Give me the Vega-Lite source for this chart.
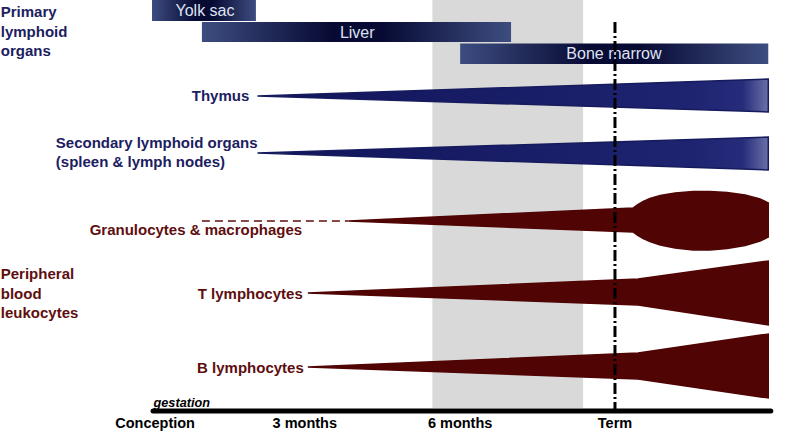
{
  "$schema": "https://vega.github.io/schema/vega-lite/v6.json",
  "width": 789,
  "height": 432,
  "padding": 0,
  "autosize": {"type": "fit", "contains": "padding"},
  "background": "white",
  "config": {"view": {"stroke": null}, "font": "Liberation Sans"},
  "datasets": {
    "bars": [
      {"organ": "Yolk sac", "start": 0, "end": 2.02, "top": 0, "bottom": 21, "mid": 1.03, "ymid": 11},
      {"organ": "Liver", "start": 0.97, "end": 6.98, "top": 22, "bottom": 42, "mid": 3.99, "ymid": 32.5},
      {"organ": "Bone marrow", "start": 5.99, "end": 11.98, "top": 43.5, "bottom": 64, "mid": 8.98, "ymid": 54}
    ],
    "navy": [
      {"shape": "Thymus", "month": 2.05, "top": 96, "bottom": 96},
      {"shape": "Thymus", "month": 11.98, "top": 79, "bottom": 112},
      {"shape": "Secondary", "month": 2.05, "top": 153, "bottom": 153},
      {"shape": "Secondary", "month": 11.98, "top": 137, "bottom": 170}
    ],
    "red": [
      {"shape": "Granulocytes", "month": 3.82, "top": 221, "bottom": 221},
      {"shape": "Granulocytes", "month": 9.35, "top": 208, "bottom": 232},
      {"shape": "Granulocytes", "month": 9.45, "top": 204.5, "bottom": 235.5},
      {"shape": "Granulocytes", "month": 9.55, "top": 201.5, "bottom": 238.5},
      {"shape": "Granulocytes", "month": 9.68, "top": 198.5, "bottom": 241.5},
      {"shape": "Granulocytes", "month": 9.88, "top": 195.5, "bottom": 245},
      {"shape": "Granulocytes", "month": 10.17, "top": 193, "bottom": 248},
      {"shape": "Granulocytes", "month": 10.52, "top": 191.5, "bottom": 250},
      {"shape": "Granulocytes", "month": 10.85, "top": 191.5, "bottom": 250},
      {"shape": "Granulocytes", "month": 11.18, "top": 192.5, "bottom": 248.5},
      {"shape": "Granulocytes", "month": 11.53, "top": 195, "bottom": 245.5},
      {"shape": "Granulocytes", "month": 11.82, "top": 199, "bottom": 241},
      {"shape": "Granulocytes", "month": 11.98, "top": 203, "bottom": 237},
      {"shape": "T lymphocytes", "month": 3.03, "top": 293, "bottom": 293},
      {"shape": "T lymphocytes", "month": 9.45, "top": 279, "bottom": 305},
      {"shape": "T lymphocytes", "month": 11.98, "top": 261, "bottom": 325},
      {"shape": "B lymphocytes", "month": 3.03, "top": 367, "bottom": 367},
      {"shape": "B lymphocytes", "month": 9.45, "top": 353, "bottom": 379},
      {"shape": "B lymphocytes", "month": 11.98, "top": 334, "bottom": 398}
    ],
    "leftText": [
      {"label": "Primary", "month": -2.94, "pos": 12, "color": "#1b2060"},
      {"label": "lymphoid", "month": -2.94, "pos": 31.5, "color": "#1b2060"},
      {"label": "organs", "month": -2.94, "pos": 51, "color": "#1b2060"},
      {"label": "Secondary lymphoid organs", "month": -1.87, "pos": 143, "color": "#1b2060"},
      {"label": "(spleen & lymph nodes)", "month": -1.87, "pos": 162, "color": "#1b2060"},
      {"label": "Peripheral", "month": -2.94, "pos": 274, "color": "#5e0e0e"},
      {"label": "blood", "month": -2.94, "pos": 293.5, "color": "#5e0e0e"},
      {"label": "leukocytes", "month": -2.94, "pos": 313, "color": "#5e0e0e"}
    ],
    "rightText": [
      {"label": "Thymus", "month": 1.89, "pos": 96, "color": "#1b2060"},
      {"label": "Granulocytes & macrophages", "month": 2.92, "pos": 230, "color": "#5e0e0e"},
      {"label": "T lymphocytes", "month": 2.93, "pos": 293.5, "color": "#5e0e0e"},
      {"label": "B lymphocytes", "month": 2.95, "pos": 367.5, "color": "#5e0e0e"}
    ],
    "ticks": [
      {"label": "Conception", "month": 0.06},
      {"label": "3 months", "month": 2.97},
      {"label": "6 months", "month": 5.99},
      {"label": "Term", "month": 9.0}
    ]
  },
  "encoding": {
    "x": {"type": "quantitative", "scale": {"domain": [-2.955, 12.383], "nice": false, "zero": false}, "axis": null},
    "y": {"type": "quantitative", "scale": {"domain": [0, 432], "reverse": true, "nice": false, "zero": false}, "axis": null}
  },
  "layer": [
    {
      "data": {"values": [{"from": 5.45, "to": 8.38, "top": 0, "bottom": 408}]},
      "mark": {"type": "rect", "color": "#d9d9d9"},
      "encoding": {"x": {"field": "from"}, "x2": {"field": "to"}, "y": {"field": "top"}, "y2": {"field": "bottom"}}
    },
    {
      "data": {"name": "bars"},
      "mark": {
        "type": "rect",
        "fill": {"gradient": "linear", "x1": 0, "x2": 1, "y1": 0, "y2": 0, "stops": [
          {"offset": 0, "color": "#3d4d80"},
          {"offset": 0.42, "color": "#070a33"},
          {"offset": 0.58, "color": "#070a33"},
          {"offset": 1, "color": "#3d4d80"}
        ]}
      },
      "encoding": {"x": {"field": "start"}, "x2": {"field": "end"}, "y": {"field": "top"}, "y2": {"field": "bottom"}}
    },
    {
      "data": {"name": "bars"},
      "mark": {"type": "text", "align": "center", "baseline": "middle", "fontSize": 16, "color": "#dfe2f2"},
      "encoding": {"x": {"field": "mid"}, "y": {"field": "ymid"}, "text": {"field": "organ"}}
    },
    {
      "data": {"name": "navy"},
      "mark": {
        "type": "area",
        "strokeWidth": 1.5,
        "stroke": "#161b5e",
        "fill": {"gradient": "linear", "x1": 0, "x2": 1, "y1": 0, "y2": 0, "stops": [
          {"offset": 0, "color": "#10145a"},
          {"offset": 0.85, "color": "#1e2470"},
          {"offset": 0.95, "color": "#262c7a"},
          {"offset": 1, "color": "#6a70a8"}
        ]}
      },
      "encoding": {"x": {"field": "month"}, "y": {"field": "top"}, "y2": {"field": "bottom"}, "detail": {"field": "shape"}}
    },
    {
      "data": {"name": "red"},
      "mark": {"type": "area", "color": "#500404", "stroke": "#500404", "strokeWidth": 1.5},
      "encoding": {"x": {"field": "month"}, "y": {"field": "top"}, "y2": {"field": "bottom"}, "detail": {"field": "shape"}}
    },
    {
      "data": {"values": [{"from": 0.97, "to": 3.82, "pos": 221}]},
      "mark": {"type": "rule", "color": "#5e0e0e", "strokeWidth": 1.6, "strokeDash": [8, 5]},
      "encoding": {"x": {"field": "from"}, "x2": {"field": "to"}, "y": {"field": "pos"}}
    },
    {
      "data": {"values": [{"month": 9.0, "top": 22, "bottom": 410}]},
      "mark": {"type": "rule", "color": "black", "strokeWidth": 3, "strokeDash": [11, 3, 2, 3]},
      "encoding": {"x": {"field": "month"}, "y": {"field": "top"}, "y2": {"field": "bottom"}}
    },
    {
      "data": {"values": [{"from": 0.02, "to": 12.03, "pos": 411}]},
      "mark": {"type": "rule", "color": "black", "strokeWidth": 5, "strokeCap": "round"},
      "encoding": {"x": {"field": "from"}, "x2": {"field": "to"}, "y": {"field": "pos"}}
    },
    {
      "data": {"name": "leftText"},
      "mark": {"type": "text", "align": "left", "baseline": "middle", "fontSize": 15, "fontWeight": "bold"},
      "encoding": {"x": {"field": "month"}, "y": {"field": "pos"}, "text": {"field": "label"}, "color": {"field": "color", "type": "nominal", "scale": null}}
    },
    {
      "data": {"name": "rightText"},
      "mark": {"type": "text", "align": "right", "baseline": "middle", "fontSize": 15, "fontWeight": "bold"},
      "encoding": {"x": {"field": "month"}, "y": {"field": "pos"}, "text": {"field": "label"}, "color": {"field": "color", "type": "nominal", "scale": null}}
    },
    {
      "data": {"name": "ticks"},
      "mark": {"type": "text", "align": "center", "baseline": "middle", "fontSize": 14.5, "fontWeight": "bold", "color": "black"},
      "encoding": {"x": {"field": "month"}, "y": {"datum": 423.5}, "text": {"field": "label"}}
    },
    {
      "data": {"values": [{"label": "gestation", "month": 0.03}]},
      "mark": {"type": "text", "align": "left", "baseline": "middle", "fontSize": 12.7, "fontWeight": "bold", "fontStyle": "italic", "color": "black"},
      "encoding": {"x": {"field": "month"}, "y": {"datum": 403}, "text": {"field": "label"}}
    }
  ]
}
